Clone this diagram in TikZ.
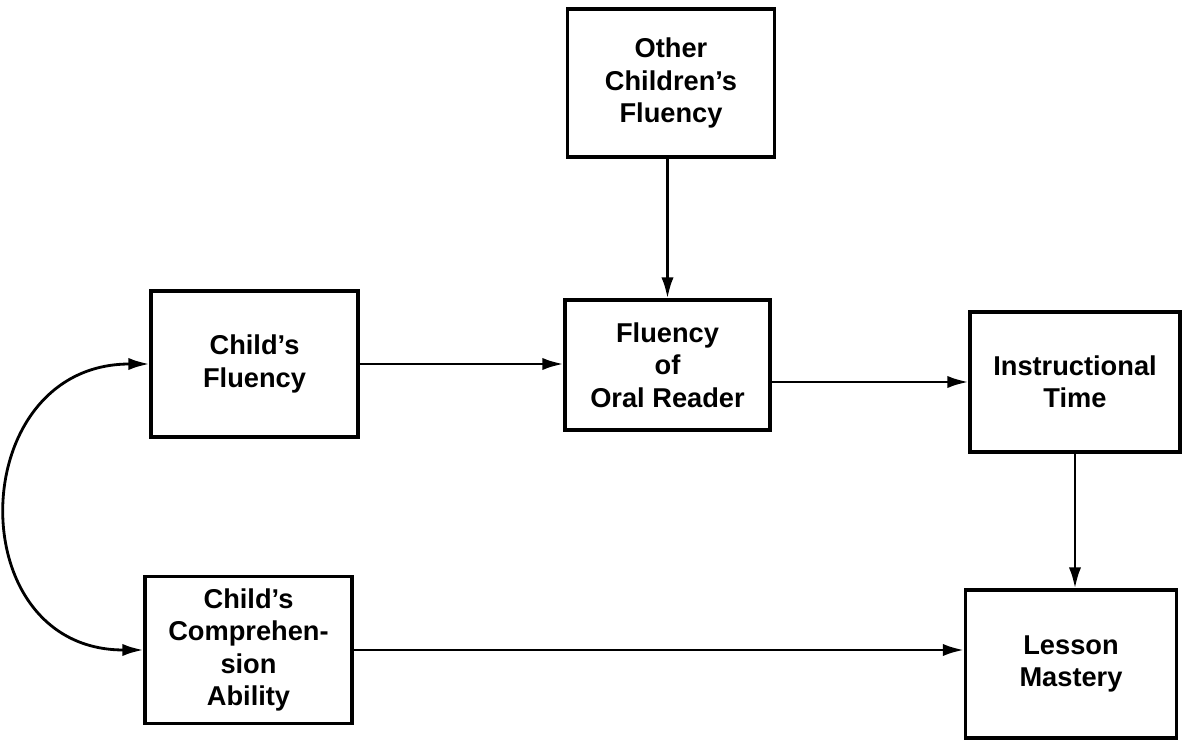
\documentclass[tikz,border=0pt]{standalone}
\usepackage{fontspec}
\setmainfont{Liberation Sans}
\usetikzlibrary{arrows.meta}
\tikzset{
  factor/.style={draw,line width=1.8pt,align=center,inner sep=2pt,
    font=\bfseries\fontsize{15.5}{18.5}\selectfont},
  link/.style={line width=1.6pt,-{Latex[length=12pt,width=7pt]}}
}
\begin{document}
\begin{tikzpicture}
            \useasboundingbox (0,0) rectangle (23.64,14.84);
            \node[factor,minimum width=4.14cm,minimum height=2.96cm] (other) at (13.42,13.18) {Other\\Children’s\\Fluency};
            \node[factor,minimum width=4.14cm,minimum height=2.92cm] (cfl) at (5.09,7.56) {Child’s\\Fluency};
            \node[factor,minimum width=4.1cm,minimum height=2.6cm] (flu) at (13.35,7.54) {Fluency\\of\\Oral Reader};
            \node[factor,minimum width=4.2cm,minimum height=2.8cm] (instr) at (21.5,7.2) {Instructional\\Time};
            \node[factor,minimum width=4.14cm,minimum height=2.94cm] (comp) at (4.97,1.84) {Child’s\\Comprehen-\\sion\\Ability};
            \node[factor,minimum width=4.22cm,minimum height=2.96cm] (lesson) at (21.42,1.56) {Lesson\\Mastery};
            \draw[link] (other.south -| flu.north) -- (flu.north);
            \draw[link] (cfl.east) -- (cfl.east -| flu.west);
            \draw[link] (flu.east |- instr.west) -- (instr.west);
            \draw[link] (instr.south) -- (instr.south |- lesson.north);
            \draw[link] (comp.east) -- (comp.east -| lesson.west);
            \draw[link,{Latex[length=12pt,width=7pt]}-{Latex[length=12pt,width=7pt]}] (cfl.west) .. controls +(-3.7,0) and +(-3.7,0) .. (comp.west);
        \end{tikzpicture}
\end{document}
